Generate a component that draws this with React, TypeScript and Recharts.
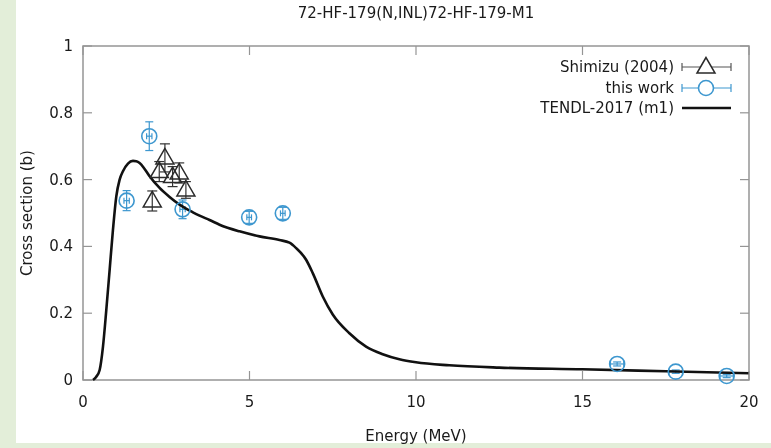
import React from 'react';
import { ComposedChart, Line, Scatter, XAxis, YAxis, ErrorBar, ReferenceArea } from 'recharts';

// TENDL-2017 (m1) evaluated curve
const tendlEnergy = [
  0.3, 0.4, 0.5, 0.6, 0.7, 0.8, 0.9, 1.0, 1.1, 1.2, 1.35, 1.5, 1.6, 1.7, 1.85, 2.0, 2.3, 2.6, 2.9,
  3.3, 3.5, 3.8, 4.1, 4.7, 5.3, 5.9, 6.2, 6.4, 6.7, 6.9, 7.2, 7.5, 8.0, 8.5, 9.0, 9.5, 10, 11,
  12.5, 15, 17.5, 20,
];
const tendlXs = [
  0, 0.01, 0.03, 0.1, 0.21, 0.33, 0.45, 0.55, 0.6, 0.625, 0.648, 0.656, 0.655, 0.65, 0.632, 0.61,
  0.575, 0.548, 0.525, 0.502, 0.492, 0.479, 0.465, 0.445, 0.43, 0.419, 0.411, 0.395, 0.36, 0.32,
  0.25, 0.196, 0.14, 0.1, 0.077, 0.062, 0.053, 0.044, 0.037, 0.032, 0.026, 0.02,
];

// Shimizu (2004)
const shimizuEnergy = [2.08, 2.29, 2.46, 2.69, 2.89, 3.09];
const shimizuXs = [0.536, 0.624, 0.665, 0.609, 0.62, 0.569];
const shimizuErr = [0.03, 0.03, 0.042, 0.03, 0.03, 0.025];

// this work
const workEnergy = [1.31, 1.99, 2.99, 4.99, 6.0, 16.04, 17.8, 19.33];
const workXs = [0.537, 0.73, 0.511, 0.487, 0.499, 0.048, 0.025, 0.012];
const workErrY = [0.03, 0.043, 0.028, 0.018, 0.018, 0.006, 0.005, 0.005];
const workErrX = [0.08, 0.08, 0.08, 0.07, 0.07, 0.2, 0.2, 0.2];

const xTicks = [0, 5, 10, 15, 20];
const yTicks = [0, 0.2, 0.4, 0.6, 0.8, 1];

const FONT = '"DejaVu Sans", Verdana, sans-serif';
const TEXT = '#1a1a1a';
const FRAME = '#959595';
const BLUE = '#3d97cf';
const TRI = '#2a2a2a';

const W = 771;
const H = 448;
const MARGIN = { top: 46, right: 22, bottom: 0, left: 0 };
const Y_AXIS_W = 83;
const X_AXIS_H = 68;
const PLOT_W = W - MARGIN.right - Y_AXIS_W;
const PLOT_H = H - MARGIN.top - X_AXIS_H;

const tendl = tendlEnergy.map((x, i) => ({ x, y: tendlXs[i] }));
const shimizu = shimizuEnergy.map((x, i) => ({ x, y: shimizuXs[i], ey: shimizuErr[i] }));
const work = workEnergy.map((x, i) => ({ x, y: workXs[i], ey: workErrY[i], ex: workErrX[i] }));

const triangle = (cx: number, cy: number) =>
  `${cx},${cy - 9.5} ${cx - 9},${cy + 6} ${cx + 9},${cy + 6}`;

// gnuplot-style inward ticks, mirrored on the opposite side of the frame
const BottomTick = (props: any) => {
  const { x, y, payload } = props;
  return (
    <g>
      <line x1={x} y1={y} x2={x} y2={y - 9} stroke={FRAME} strokeWidth={1.2} />
      <line x1={x} y1={y - PLOT_H} x2={x} y2={y - PLOT_H + 9} stroke={FRAME} strokeWidth={1.2} />
      <text x={x} y={y + 27} textAnchor="middle" fontSize={15} fontFamily={FONT} fill={TEXT}>
        {payload.value}
      </text>
    </g>
  );
};

const LeftTick = (props: any) => {
  const { x, y, payload } = props;
  return (
    <g>
      <line x1={x} y1={y} x2={x + 9} y2={y} stroke={FRAME} strokeWidth={1.2} />
      <line x1={x + PLOT_W} y1={y} x2={x + PLOT_W - 9} y2={y} stroke={FRAME} strokeWidth={1.2} />
      <text x={x - 10} y={y} textAnchor="end" dominantBaseline="central" fontSize={15} fontFamily={FONT} fill={TEXT}>
        {payload.value}
      </text>
    </g>
  );
};

const Legend = () => (
  <svg width={W} height={H} style={{ position: 'absolute', left: 0, top: 0, pointerEvents: 'none' }}>
    <g fontFamily={FONT} fontSize={15} fill={TEXT} textAnchor="end">
      <text x={674} y={67} dominantBaseline="central">Shimizu (2004)</text>
      <text x={674} y={88} dominantBaseline="central">this work</text>
      <text x={674} y={108} dominantBaseline="central">TENDL-2017 (m1)</text>
    </g>
    <g stroke="#555" strokeWidth={1.2}>
      <line x1={682} y1={67} x2={731} y2={67} />
      <line x1={682} y1={63} x2={682} y2={71} />
      <line x1={731} y1={63} x2={731} y2={71} />
    </g>
    <polygon points={triangle(706, 67)} fill="#fff" stroke={TRI} strokeWidth={1.5} />
    <g stroke={BLUE} strokeWidth={1.2}>
      <line x1={682} y1={88} x2={731} y2={88} />
      <line x1={682} y1={84} x2={682} y2={92} />
      <line x1={731} y1={84} x2={731} y2={92} />
    </g>
    <circle cx={706} cy={88} r={7.5} fill="#fff" stroke={BLUE} strokeWidth={1.6} />
    <line x1={682} y1={108} x2={731} y2={108} stroke="#111" strokeWidth={2.6} />
  </svg>
);

export default function App() {
  return (
    <div style={{ position: 'fixed', left: 0, top: 0, width: W, height: H, background: '#e3eed9' }}>
      <div style={{ position: 'absolute', left: 16, top: 0, width: W - 16, height: 443, background: '#fff' }} />
      <div
        style={{
          position: 'absolute', left: 0, top: 4, width: 832, textAlign: 'center',
          fontFamily: FONT, fontSize: 15, color: TEXT,
        }}
      >
        72-HF-179(N,INL)72-HF-179-M1
      </div>
      <div style={{ position: 'absolute', left: 0, top: 0 }}>
        <ComposedChart width={W} height={H} margin={MARGIN}>
          <XAxis
            dataKey="x" type="number" domain={[0, 20]} ticks={xTicks} height={X_AXIS_H}
            axisLine={false} tickLine={false} tickSize={0} tickMargin={0} tick={<BottomTick />}
            label={{ value: 'Energy (MeV)', position: 'insideBottom', offset: 7, fontSize: 15, fontFamily: FONT, fill: TEXT }}
          />
          <YAxis
            dataKey="y" type="number" domain={[0, 1]} ticks={yTicks} width={Y_AXIS_W}
            axisLine={false} tickLine={false} tickSize={0} tickMargin={0} tick={<LeftTick />}
            label={{
              value: 'Cross section (b)', angle: -90, position: 'insideLeft', offset: 27,
              style: { textAnchor: 'middle' }, fontSize: 15, fontFamily: FONT, fill: TEXT,
            }}
          />
          <ReferenceArea
            x1={0} x2={20} y1={0} y2={1}
            fill="none" stroke={FRAME} strokeWidth={1.5} fillOpacity={0}
          />
          <Scatter
            data={shimizu} dataKey="y" isAnimationActive={false}
            shape={(p: any) => <polygon points={triangle(p.cx, p.cy)} fill="none" stroke={TRI} strokeWidth={1.5} />}
          >
            <ErrorBar dataKey="ey" direction="y" width={5} stroke="#333" strokeWidth={1.2} isAnimationActive={false} />
          </Scatter>
          <Scatter
            data={work} dataKey="y" isAnimationActive={false}
            shape={(p: any) => <circle cx={p.cx} cy={p.cy} r={7.5} fill="none" stroke={BLUE} strokeWidth={1.6} />}
          >
            <ErrorBar dataKey="ey" direction="y" width={4} stroke={BLUE} strokeWidth={1.2} isAnimationActive={false} />
            <ErrorBar dataKey="ex" direction="x" width={3} stroke={BLUE} strokeWidth={1.2} isAnimationActive={false} />
          </Scatter>
          <Line
            data={tendl} dataKey="y" type="monotone"
            stroke="#111" strokeWidth={2.6} dot={false} isAnimationActive={false}
          />
        </ComposedChart>
      </div>
      <Legend />
    </div>
  );
}
